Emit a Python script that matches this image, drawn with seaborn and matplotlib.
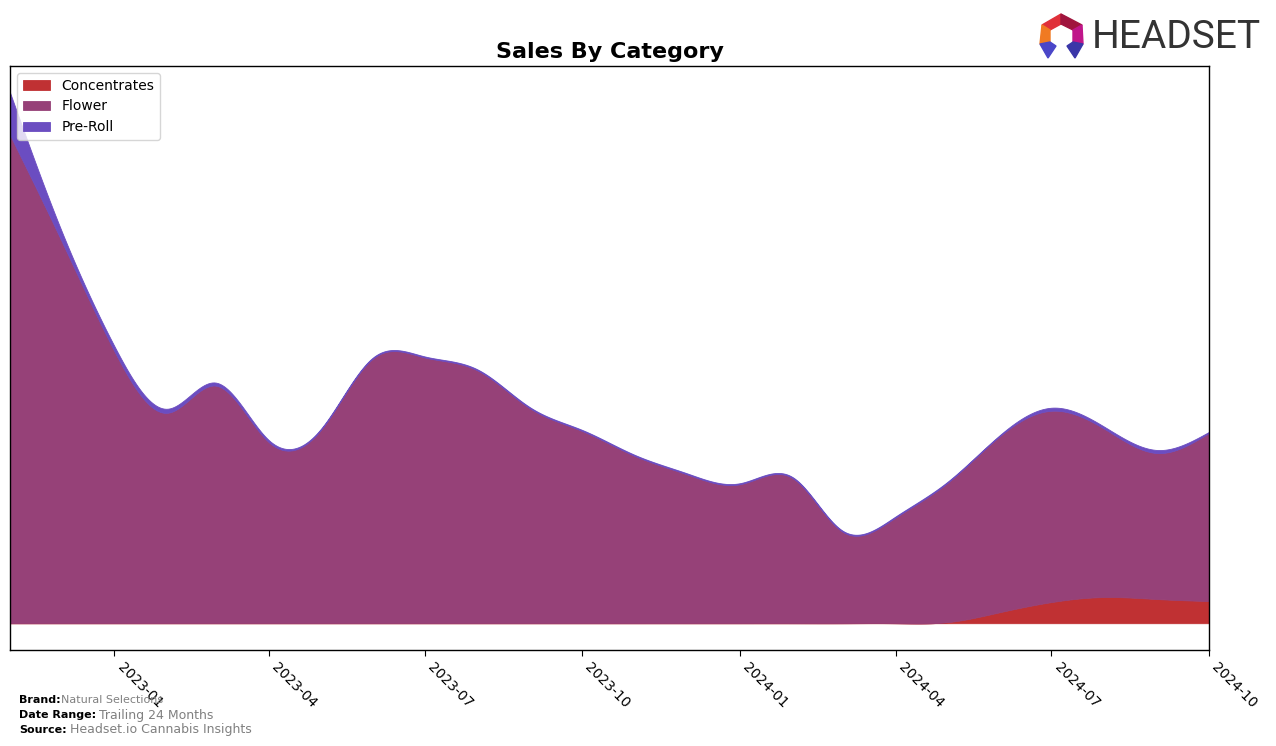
import numpy as np
import pandas as pd
import matplotlib
matplotlib.use("Agg")
import matplotlib.pyplot as plt
import matplotlib.dates as mdates
from matplotlib.patches import Polygon
import seaborn as sns

# ------------------------------------------------------------
# data (monthly sales, arbitrary units)
# ------------------------------------------------------------
months = pd.date_range("2022-11-01", "2024-10-01", freq="MS")

total = [527, 390, 275, 213, 239, 182, 192, 264, 265, 252, 214, 192,
         167, 149, 139, 145, 92, 106, 140, 187, 214, 195, 172, 190]
preroll = [42, 10, 5, 4, 3, 2, 1, 1, 1, 1, 1, 1,
           1, 1, 1, 1, 1, 1, 1, 1, 3, 2, 3, 1]
concentrates = [0, 0, 0, 0, 0, 0, 0, 0, 0, 0, 0, 0,
                0, 0, 0, 0, 0, 0, 1, 11, 21, 26, 24, 22]
flower = [t - p - c for t, p, c in zip(total, preroll, concentrates)]

categories = ["Concentrates", "Flower", "Pre-Roll"]
colors = ["#c03133", "#964178", "#6b4dc1"]

tick_dates = pd.date_range("2023-01-01", "2024-10-01", freq="QS")


def natural_spline(x, y, xs):
    """Natural cubic spline, used only to smooth the drawn curve."""
    x = np.asarray(x, dtype=float)
    y = np.asarray(y, dtype=float)
    n = len(x)
    h = np.diff(x)
    A = np.zeros((n, n))
    b = np.zeros(n)
    A[0, 0] = 1
    A[-1, -1] = 1
    for i in range(1, n - 1):
        A[i, i - 1] = h[i - 1]
        A[i, i] = 2 * (h[i - 1] + h[i])
        A[i, i + 1] = h[i]
        b[i] = 3 * ((y[i + 1] - y[i]) / h[i] - (y[i] - y[i - 1]) / h[i - 1])
    c = np.linalg.solve(A, b)
    idx = np.clip(np.searchsorted(x, xs) - 1, 0, n - 2)
    dx = xs - x[idx]
    bb = (y[idx + 1] - y[idx]) / h[idx] - h[idx] * (2 * c[idx] + c[idx + 1]) / 3
    d = (c[idx + 1] - c[idx]) / (3 * h[idx])
    return y[idx] + bb * dx + c[idx] * dx ** 2 + d * dx ** 3


# ------------------------------------------------------------
# plot
# ------------------------------------------------------------
sns.set_style("white", {"text.color": "black", "xtick.color": "black",
                        "ytick.color": "black", "axes.edgecolor": "black",
                        "axes.labelcolor": "black"})
plt.rcParams["font.family"] = ["DejaVu Sans"]

fig = plt.figure(figsize=(12.76, 7.46), dpi=100)
ax = fig.add_axes([10 / 1276, 1 - 650 / 746, 1199 / 1276, 584 / 746])

xnum = mdates.date2num(months)
xs = np.linspace(xnum[0], xnum[-1], 600)
series = [natural_spline(xnum, s, xs) for s in (concentrates, flower, preroll)]

palette = sns.color_palette(colors)
polys = ax.stackplot(mdates.num2date(xs), *series, labels=categories, colors=palette)
for p in polys:
    p.set_edgecolor("face")
    p.set_linewidth(0.6)

ax.set_xlim(months[0], months[-1])
ax.set_yticks([])
ax.set_xticks(tick_dates)
ax.xaxis.set_major_formatter(mdates.DateFormatter("%Y-%m"))
ax.tick_params(axis="x", bottom=True, length=4, color="black", labelsize=10)
for lab in ax.get_xticklabels():
    lab.set_rotation(-45)
    lab.set_ha("left")
for sp in ax.spines.values():
    sp.set_color("black")
    sp.set_linewidth(1)

ax.set_title("Sales By Category", fontsize=16, fontweight="bold", color="black")
ax.legend(loc="upper left", fontsize=10, frameon=True)

# footer
fig.text(19 / 1276, 1 - 700 / 746, "Brand:", fontsize=8, fontweight="bold", va="center")
fig.text(61 / 1276, 1 - 700 / 746, "Natural Selections", fontsize=8, color="gray", va="center")
fig.text(19 / 1276, 1 - 715 / 746, "Date Range:", fontsize=8, fontweight="bold", va="center")
fig.text(99 / 1276, 1 - 715 / 746, "Trailing 24 Months", fontsize=9, color="gray", va="center")
fig.text(19 / 1276, 1 - 730 / 746, "Source:", fontsize=8, fontweight="bold", va="center")
fig.text(70 / 1276, 1 - 730 / 746, "Headset.io Cannabis Insights", fontsize=9, color="gray", va="center")

# logo
fig.text(1092 / 1276, 1 - 37 / 746, "HEADSET", fontsize=28, color="#333333",
         va="center", ha="left", family=["Roboto", "DejaVu Sans"])
logo_parts = [
    ([(1042, 25), (1061, 14), (1061, 24), (1050, 30)], "#e0303a"),
    ([(1061, 14), (1082, 25), (1073, 30), (1061, 24)], "#a0153e"),
    ([(1042, 25), (1050, 30), (1050, 42), (1040, 44)], "#f07a22"),
    ([(1082, 25), (1073, 30), (1073, 42), (1083, 44)], "#c0168a"),
    ([(1040, 44), (1050, 42), (1056, 46), (1048, 58)], "#4a46c8"),
    ([(1083, 44), (1073, 42), (1067, 46), (1075, 58)], "#3a36a8"),
]
for pts, col in logo_parts:
    xy = [(px / 1276, 1 - py / 746) for px, py in pts]
    fig.add_artist(Polygon(xy, closed=True, color=col, transform=fig.transFigure))

fig.savefig("out.png", dpi=100)
